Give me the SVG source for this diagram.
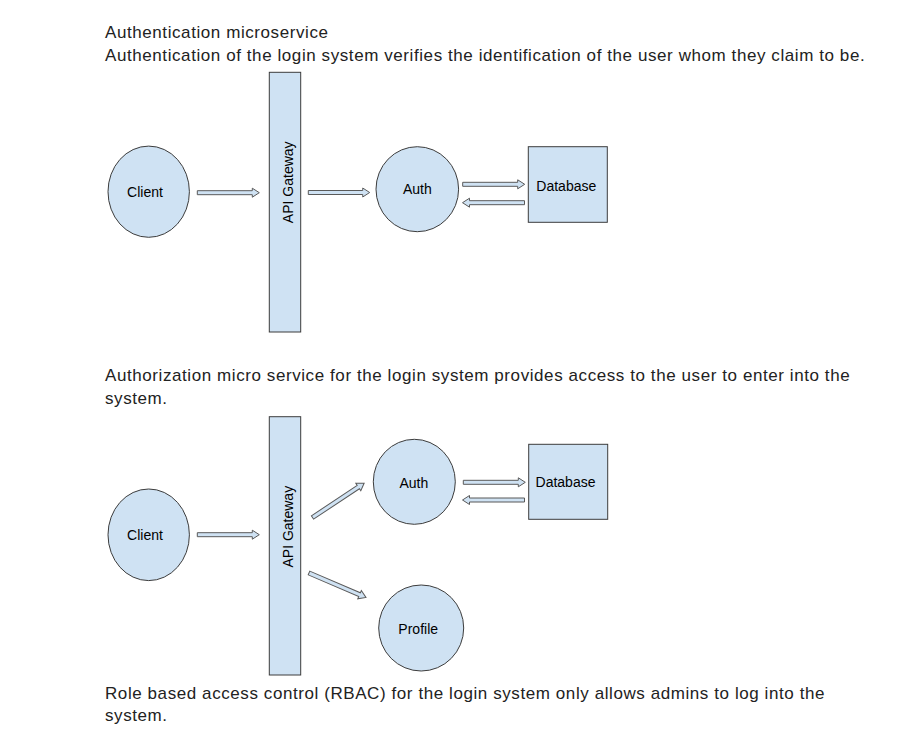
<svg xmlns="http://www.w3.org/2000/svg" width="915" height="737" viewBox="0 0 915 737">
<defs>
<style>
.bg{fill:#ffffff}
.node{fill:#cfe2f3;stroke:#3c3c3c;stroke-width:1}
.arrow{fill:#cfe2f3;stroke:#595959;stroke-width:1;stroke-linejoin:miter}
.lbl{font-family:"Liberation Sans",Arial,sans-serif;font-size:14px;fill:#000000;text-anchor:middle}
.para{font-family:"Liberation Sans",Arial,sans-serif;font-size:17px;letter-spacing:0.58px;fill:#222222}
</style>
<path id="blk" d="M0,-2 H55 V-4.5 L62,0 L55,4.5 V2 H0 Z"/>
</defs>
<rect class="bg" x="0" y="0" width="915" height="737"/>

<g id="texts">
<text class="para" x="105" y="38.3">Authentication microservice</text>
<text class="para" x="105" y="61">Authentication of the login system verifies the identification of the user whom they claim to be.</text>
<text class="para" x="105" y="381">Authorization micro service for the login system provides access to the user to enter into the</text>
<text class="para" x="105" y="403.7">system.</text>
<text class="para" x="105" y="698.5">Role based access control (RBAC) for the login system only allows admins to log into the</text>
<text class="para" x="105" y="721.2">system.</text>
</g>

<g id="connectors">
<use href="#blk" class="arrow" transform="translate(197.3,192.7)"/>
<use href="#blk" class="arrow" transform="translate(308.3,192.5) scale(0.99,1)"/>
<use href="#blk" class="arrow" transform="translate(462.7,184.3)"/>
<use href="#blk" class="arrow" transform="translate(524.5,202.7) rotate(180)"/>
<use href="#blk" class="arrow" transform="translate(197.3,534.7)"/>
<use href="#blk" class="arrow" transform="translate(312.5,517.5) rotate(-33.6)"/>
<use href="#blk" class="arrow" transform="translate(309,573) rotate(23.2)"/>
<use href="#blk" class="arrow" transform="translate(463.3,482.3)"/>
<use href="#blk" class="arrow" transform="translate(524.5,500) rotate(180)"/>
</g>

<g id="client1">
<ellipse class="node" cx="148.7" cy="191.7" rx="40.7" ry="45.6"/>
<text class="lbl" x="145" y="197.3">Client</text>
</g>
<g id="gateway1">
<rect class="node" x="269.3" y="72.3" width="31.4" height="259.7"/>
<text class="lbl" transform="translate(292.5,182.3) rotate(-90)">API Gateway</text>
</g>
<g id="auth1">
<ellipse class="node" cx="417.3" cy="189.2" rx="41.3" ry="42.5"/>
<text class="lbl" x="417.3" y="194.3">Auth</text>
</g>
<g id="database1">
<rect class="node" x="528.3" y="146.7" width="79" height="75.6"/>
<text class="lbl" x="566.3" y="190.6">Database</text>
</g>

<g id="client2">
<ellipse class="node" cx="148.7" cy="534.8" rx="40.7" ry="45.8"/>
<text class="lbl" x="145" y="540.3">Client</text>
</g>
<g id="gateway2">
<rect class="node" x="269.3" y="416.7" width="31.4" height="258.3"/>
<text class="lbl" transform="translate(292.5,526.7) rotate(-90)">API Gateway</text>
</g>
<g id="auth2">
<ellipse class="node" cx="414.3" cy="481.8" rx="41" ry="42.5"/>
<text class="lbl" x="413.8" y="487.6">Auth</text>
</g>
<g id="database2">
<rect class="node" x="528.7" y="444.3" width="79" height="75"/>
<text class="lbl" x="565.5" y="487.4">Database</text>
</g>
<g id="profile2">
<ellipse class="node" cx="421.2" cy="628" rx="42.5" ry="43"/>
<text class="lbl" x="418.2" y="634">Profile</text>
</g>
</svg>
